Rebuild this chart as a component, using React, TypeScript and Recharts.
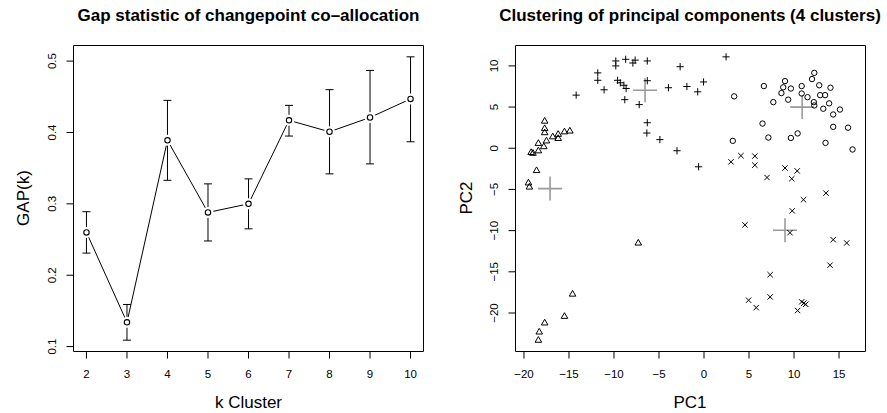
import React from 'react';
import {
  ComposedChart,
  Line,
  ErrorBar,
  ScatterChart,
  Scatter,
  XAxis,
  YAxis,
  ReferenceArea,
} from 'recharts';

// gap statistic per k
const kValues = [2, 3, 4, 5, 6, 7, 8, 9, 10];
const gapValues = [0.26, 0.134, 0.389, 0.288, 0.3, 0.417, 0.401, 0.421, 0.447];
const gapLower = [0.231, 0.109, 0.333, 0.248, 0.265, 0.395, 0.342, 0.356, 0.387];
const gapUpper = [0.289, 0.159, 0.445, 0.328, 0.335, 0.438, 0.46, 0.487, 0.506];
const gapTicks = [0.1, 0.2, 0.3, 0.4, 0.5];

// PCA clusters
const triX = [-17.7, -17.7, -17.7, -14.9, -15.5, -16.2, -16.2, -16.8, -17.5, -17.8, -18.4, -18.4, -19.0, -19.2, -18.6, -19.5, -19.4, -7.3, -14.6, -15.5, -17.7, -18.3, -18.4];
const triY = [3.3, 2.4, 1.9, 2.1, 2.0, 1.7, 1.2, 1.4, 0.9, 0.2, 0.6, -0.3, -0.6, -0.5, -2.7, -4.2, -4.7, -11.5, -17.7, -20.4, -21.2, -22.3, -23.3];
const plusX = [2.45, -11.8, -11.8, -11.1, -14.2, -9.8, -9.8, -8.7, -7.9, -7.65, -6.3, -9.6, -9.3, -8.9, -8.65, -8.8, -7.2, -6.3, -2.65, -3.95, -1.9, -0.7, -0.05, -6.3, -6.35, -4.9, -3.0, -0.6];
const plusY = [11.1, 9.15, 8.25, 7.1, 6.45, 10.6, 10.0, 10.8, 10.35, 10.7, 10.6, 8.25, 7.95, 7.65, 7.25, 5.9, 5.3, 8.2, 9.9, 7.35, 7.5, 6.85, 8.05, 3.1, 1.85, 1.05, -0.3, -2.25];
const circX = [12.25, 12.0, 9.0, 6.65, 10.85, 12.8, 14.05, 8.8, 9.65, 8.6, 10.85, 11.5, 12.9, 13.45, 12.2, 12.25, 13.9, 13.25, 15.1, 14.35, 7.7, 9.35, 3.35, 6.5, 14.35, 16.0, 7.15, 9.65, 10.4, 3.2, 13.5, 16.5];
const circY = [9.15, 8.4, 8.15, 7.55, 7.55, 7.65, 7.35, 7.4, 7.25, 6.7, 6.65, 6.2, 6.45, 6.45, 5.6, 5.2, 5.45, 4.8, 4.7, 4.1, 5.6, 5.9, 6.3, 3.0, 2.6, 2.5, 1.3, 1.25, 1.8, 0.9, 0.65, -0.15];
const crossX = [3.0, 4.1, 5.65, 5.65, 7.0, 9.0, 10.35, 9.75, 13.55, 11.05, 9.8, 4.55, 9.55, 14.35, 15.85, 14.0, 7.35, 7.35, 4.95, 5.8, 10.85, 11.1, 11.3, 10.4];
const crossY = [-1.65, -0.9, -0.95, -2.05, -3.55, -2.4, -2.75, -3.7, -5.45, -6.25, -7.6, -9.3, -10.25, -11.1, -11.5, -14.2, -15.35, -18.05, -18.45, -19.35, -18.65, -18.8, -18.95, -19.7];
const centerX = [-17.1, -6.55, 10.9, 9.0];
const centerY = [-4.9, 7.05, 5.0, -9.95];
const pcXTicks = [-20, -15, -10, -5, 0, 5, 10, 15];
const pcYTicks = [-20, -15, -10, -5, 0, 5, 10];

const FONT = '"Liberation Sans", Arial, Helvetica, sans-serif';

// R style axis range: data range padded 4% each side
const rRange = (vals: number[]): [number, number] => {
  const lo = Math.min(...vals);
  const hi = Math.max(...vals);
  const pad = (hi - lo) * 0.04;
  return [lo - pad, hi + pad];
};

const gapData = kValues.map((k, i) => ({
  k,
  gap: gapValues[i],
  err: [gapValues[i] - gapLower[i], gapUpper[i] - gapValues[i]],
}));

const pts = (xs: number[], ys: number[]) => xs.map((x, i) => ({ x, y: ys[i] }));

const minus = (v: number) => (v < 0 ? '\u2212' + Math.abs(v) : String(v));

const kDomain = rRange(kValues);
const gapDomain = rRange([...gapLower, ...gapUpper]);
const pcXDomain = rRange([...triX, ...plusX, ...circX, ...crossX]);
const pcYDomain = rRange([...triY, ...plusY, ...circY, ...crossY]);

const VTick = ({ x, y, payload, fmt }: any) => {
  const tx = x - 8;
  return (
    <text
      x={tx}
      y={y}
      transform={`rotate(-90 ${tx} ${y})`}
      textAnchor="middle"
      fontSize={11.5}
      fontFamily={FONT}
      fill="#000"
    >
      {fmt(payload.value)}
    </text>
  );
};

const OpenDot = (props: any) => {
  const { cx, cy, index } = props;
  return (
    <g key={`dot-${index}`}>
      <circle cx={cx} cy={cy} r={5.5} fill="#fff" />
      <circle cx={cx} cy={cy} r={2.7} fill="#fff" stroke="#000" strokeWidth={1.1} />
    </g>
  );
};

const Tri = ({ cx, cy }: any) => (
  <path
    d={`M${cx},${cy - 3.6}L${cx + 3.3},${cy + 2.1}L${cx - 3.3},${cy + 2.1}Z`}
    fill="none"
    stroke="#000"
    strokeWidth={1}
  />
);
const Plus = ({ cx, cy }: any) => (
  <path d={`M${cx - 3.6},${cy}H${cx + 3.6}M${cx},${cy - 3.6}V${cy + 3.6}`} stroke="#000" strokeWidth={1} />
);
const Ring = ({ cx, cy }: any) => (
  <circle cx={cx} cy={cy} r={2.7} fill="none" stroke="#000" strokeWidth={1} />
);
const Cross = ({ cx, cy }: any) => (
  <path
    d={`M${cx - 2.7},${cy - 2.7}L${cx + 2.7},${cy + 2.7}M${cx - 2.7},${cy + 2.7}L${cx + 2.7},${cy - 2.7}`}
    stroke="#000"
    strokeWidth={1}
  />
);
const Center = ({ cx, cy }: any) => (
  <path d={`M${cx - 12},${cy}H${cx + 12}M${cx},${cy - 12}V${cy + 12}`} stroke="#9a9a9a" strokeWidth={1.6} />
);

const tickStyle = { fill: '#000', fontSize: 11.5, fontFamily: FONT };

export default function App() {
  return (
    <div style={{ position: 'absolute', left: 0, top: 0, width: 887, height: 413, background: '#fff', fontFamily: FONT }}>
      <div style={{ position: 'absolute', left: 0, top: 0 }}>
        <ComposedChart width={443} height={413} data={gapData} margin={{ top: 45.5, right: 19.5, bottom: 21.5, left: 13.5 }}>
          <XAxis
            dataKey="k"
            type="number"
            domain={kDomain}
            ticks={kValues}
            allowDataOverflow
            axisLine={false}
            tickLine={{ stroke: '#000' }}
            tickSize={7}
            tickMargin={11}
            height={40}
            tick={tickStyle}
          />
          <YAxis
            type="number"
            domain={gapDomain}
            ticks={gapTicks}
            allowDataOverflow
            axisLine={false}
            tickLine={{ stroke: '#000' }}
            tickSize={7}
            width={60}
            tick={(p: any) => <VTick {...p} fmt={(v: number) => v.toFixed(1)} />}
          />
          <ReferenceArea
            x1={kDomain[0]}
            x2={kDomain[1]}
            y1={gapDomain[0]}
            y2={gapDomain[1]}
            fill="none"
            fillOpacity={0}
            stroke="#000"
            strokeWidth={1}
            ifOverflow="visible"
          />
          <Line
            dataKey="gap"
            type="linear"
            stroke="#000"
            strokeWidth={1}
            dot={OpenDot}
            activeDot={false}
            isAnimationActive={false}
          >
            <ErrorBar dataKey="err" direction="y" width={4} stroke="#000" strokeWidth={1} isAnimationActive={false} />
          </Line>
        </ComposedChart>
      </div>

      <div style={{ position: 'absolute', left: 443, top: 0 }}>
        <ScatterChart width={444} height={413} margin={{ top: 45.5, right: 21.5, bottom: 21.5, left: 12.5 }}>
          <XAxis
            dataKey="x"
            type="number"
            domain={pcXDomain}
            ticks={pcXTicks}
            allowDataOverflow
            axisLine={false}
            tickLine={{ stroke: '#000' }}
            tickSize={7}
            tickMargin={11}
            height={40}
            tick={tickStyle}
            tickFormatter={minus}
          />
          <YAxis
            dataKey="y"
            type="number"
            domain={pcYDomain}
            ticks={pcYTicks}
            allowDataOverflow
            axisLine={false}
            tickLine={{ stroke: '#000' }}
            tickSize={7}
            width={60}
            tick={(p: any) => <VTick {...p} fmt={minus} />}
          />
          <ReferenceArea
            x1={pcXDomain[0]}
            x2={pcXDomain[1]}
            y1={pcYDomain[0]}
            y2={pcYDomain[1]}
            fill="none"
            fillOpacity={0}
            stroke="#000"
            strokeWidth={1}
            ifOverflow="visible"
          />
          <Scatter data={pts(centerX, centerY)} shape={Center} isAnimationActive={false} />
          <Scatter data={pts(triX, triY)} shape={Tri} isAnimationActive={false} />
          <Scatter data={pts(plusX, plusY)} shape={Plus} isAnimationActive={false} />
          <Scatter data={pts(circX, circY)} shape={Ring} isAnimationActive={false} />
          <Scatter data={pts(crossX, crossY)} shape={Cross} isAnimationActive={false} />
        </ScatterChart>
      </div>

      {/* titles and axis labels */}
      <svg width={887} height={413} style={{ position: 'absolute', left: 0, top: 0, pointerEvents: 'none' }}>
        <g fontFamily={FONT} fill="#000">
          <text x={248.5} y={21} textAnchor="middle" fontSize={17} fontWeight="bold">
            Gap statistic of changepoint co–allocation
          </text>
          <text x={690} y={21} textAnchor="middle" fontSize={17} fontWeight="bold">
            Clustering of principal components (4 clusters)
          </text>
          <text x={248.5} y={408} textAnchor="middle" fontSize={17}>k Cluster</text>
          <text x={690} y={408} textAnchor="middle" fontSize={17}>PC1</text>
          <text x={29} y={198} textAnchor="middle" fontSize={17} transform="rotate(-90 29 198)">GAP(k)</text>
          <text x={472} y={198} textAnchor="middle" fontSize={17} transform="rotate(-90 472 198)">PC2</text>
        </g>
      </svg>
    </div>
  );
}
